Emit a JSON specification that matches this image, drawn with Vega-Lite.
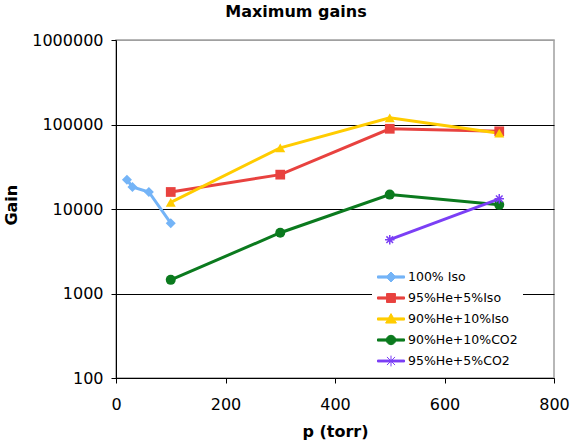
{
  "$schema": "https://vega.github.io/schema/vega-lite/v6.json",
  "width": 438,
  "height": 338,
  "autosize": "none",
  "padding": {"left": 116, "top": 40, "right": 19, "bottom": 62},
  "background": "white",
  "title": {"text": "Maximum gains", "fontSize": 16, "font": "DejaVu Sans", "fontWeight": "bold", "color": "black", "anchor": "middle", "dx": -39, "baseline": "alphabetic", "offset": -1},
  "config": {"view": {"stroke": "#A0A0A0", "strokeWidth": 1.5}, "font": "DejaVu Sans"},
  "data": {"values": [
    {"series": "100% Iso", "p": 20, "gain": 22200},
    {"series": "100% Iso", "p": 30, "gain": 18200},
    {"series": "100% Iso", "p": 60, "gain": 15900},
    {"series": "100% Iso", "p": 100, "gain": 6800},
    {"series": "95%He+5%Iso", "p": 100, "gain": 15900},
    {"series": "95%He+5%Iso", "p": 300, "gain": 25500},
    {"series": "95%He+5%Iso", "p": 500, "gain": 89000},
    {"series": "95%He+5%Iso", "p": 700, "gain": 83000},
    {"series": "90%He+10%Iso", "p": 100, "gain": 12000},
    {"series": "90%He+10%Iso", "p": 300, "gain": 53000},
    {"series": "90%He+10%Iso", "p": 500, "gain": 120000},
    {"series": "90%He+10%Iso", "p": 700, "gain": 79000},
    {"series": "90%He+10%CO2", "p": 100, "gain": 1450},
    {"series": "90%He+10%CO2", "p": 300, "gain": 5240},
    {"series": "90%He+10%CO2", "p": 500, "gain": 14800},
    {"series": "90%He+10%CO2", "p": 700, "gain": 11200},
    {"series": "95%He+5%CO2", "p": 500, "gain": 4330},
    {"series": "95%He+5%CO2", "p": 700, "gain": 13200}
  ]},
  "encoding": {
    "x": {"field": "p", "type": "quantitative", "scale": {"domain": [0, 800], "nice": false},
      "axis": {"title": "p (torr)", "values": [0, 200, 400, 600, 800], "grid": false, "domainColor": "black", "domainWidth": 1, "tickColor": "black", "tickSize": 5, "labelFont": "DejaVu Sans", "labelFontSize": 16, "labelColor": "black", "labelBaseline": "alphabetic", "labelPadding": 26, "labelFlush": false, "labelOverlap": false, "titleFont": "DejaVu Sans", "titleFontSize": 16, "titleFontWeight": "bold", "titleColor": "black", "titleBaseline": "alphabetic", "titleY": 58.4}},
    "y": {"field": "gain", "type": "quantitative", "scale": {"type": "log", "domain": [100, 1000000], "nice": false},
      "axis": {"title": "Gain", "values": [100, 1000, 10000, 100000, 1000000], "format": "d", "grid": true, "gridColor": {"condition": {"test": "datum.value >= 1000000", "value": "#A0A0A0"}, "value": "black"}, "gridWidth": 1, "domainColor": "black", "tickColor": "black", "tickSize": 5, "labelFont": "DejaVu Sans", "labelFontSize": 16, "labelColor": "black", "labelPadding": 8, "labelFlush": false, "labelOverlap": false, "titleFont": "DejaVu Sans", "titleFontSize": 16, "titleFontWeight": "bold", "titleColor": "black", "titleAngle": -90, "titleBaseline": "middle", "titleAlign": "center", "titleX": -104.5, "titleY": 164.7}},
    "color": {"field": "series", "type": "nominal",
      "scale": {"domain": ["100% Iso", "95%He+5%Iso", "90%He+10%Iso", "90%He+10%CO2", "95%He+5%CO2"], "range": ["#74B4F7", "#E8423F", "#FFCC00", "#0B7A1E", "#7B3FF5"]},
      "legend": {"orient": "none", "legendX": 256, "legendY": 218, "title": null, "symbolSize": 729, "symbolStrokeWidth": 1, "symbolOpacity": 1, "labelFont": "DejaVu Sans", "labelFontSize": 12.5, "labelColor": "black", "rowPadding": -9.3, "labelOffset": 3, "fillColor": "white", "padding": 5, "symbolOffset": 0,
        "encode": {"symbols": {"update": {
          "shape": {"signal": "datum.value === '100% Iso' ? 'M-1,-0.08H-0.29L0,-0.37L0.29,-0.08H1V0.08H0.29L0,0.37L-0.29,0.08H-1Z' : datum.value === '95%He+5%Iso' ? 'M-1,-0.08H-0.33V-0.33H0.33V-0.08H1V0.08H0.33V0.33H-0.33V0.08H-1Z' : datum.value === '90%He+10%Iso' ? 'M-1,-0.08H-0.183L0,-0.4L0.183,-0.08H1V0.08H0.274L0.4,0.3H-0.4L-0.274,0.08H-1Z' : datum.value === '90%He+10%CO2' ? 'M-1,-0.08H-0.34A0.35,0.35 0 0 1 0.34,-0.08H1V0.08H0.34A0.35,0.35 0 0 1 -0.34,0.08H-1Z' : 'M-1,-0.07H1V0.07H-1ZM-0.3,-0.3L0.3,0.3M-0.3,0.3L0.3,-0.3M0,-0.4V0.4'"},
          "fill": {"scale": "color", "field": "value"},
          "stroke": {"scale": "color", "field": "value"},
          "opacity": {"value": 1},
          "strokeWidth": {"value": 1}
        }}}}}
  },
  "layer": [
    {"mark": {"type": "line", "strokeWidth": 3}},
    {"transform": [{"filter": {"field": "series", "equal": "100% Iso"}}],
     "mark": {"type": "point", "shape": "diamond", "filled": true, "size": 100, "opacity": 1}},
    {"transform": [{"filter": {"field": "series", "equal": "95%He+5%Iso"}}],
     "mark": {"type": "point", "shape": "square", "filled": true, "size": 95, "opacity": 1}},
    {"transform": [{"filter": {"field": "series", "equal": "90%He+10%Iso"}}],
     "mark": {"type": "point", "shape": "triangle-up", "filled": true, "size": 100, "opacity": 1}},
    {"transform": [{"filter": {"field": "series", "equal": "90%He+10%CO2"}}],
     "mark": {"type": "point", "shape": "circle", "filled": true, "size": 100, "opacity": 1}},
    {"transform": [{"filter": {"field": "series", "equal": "95%He+5%CO2"}}],
     "mark": {"type": "point", "shape": "M-1,0H1M0,-1V1M-0.7,-0.7L0.7,0.7M-0.7,0.7L0.7,-0.7", "filled": false, "strokeWidth": 1.5, "size": 90, "opacity": 1}}
  ]
}
